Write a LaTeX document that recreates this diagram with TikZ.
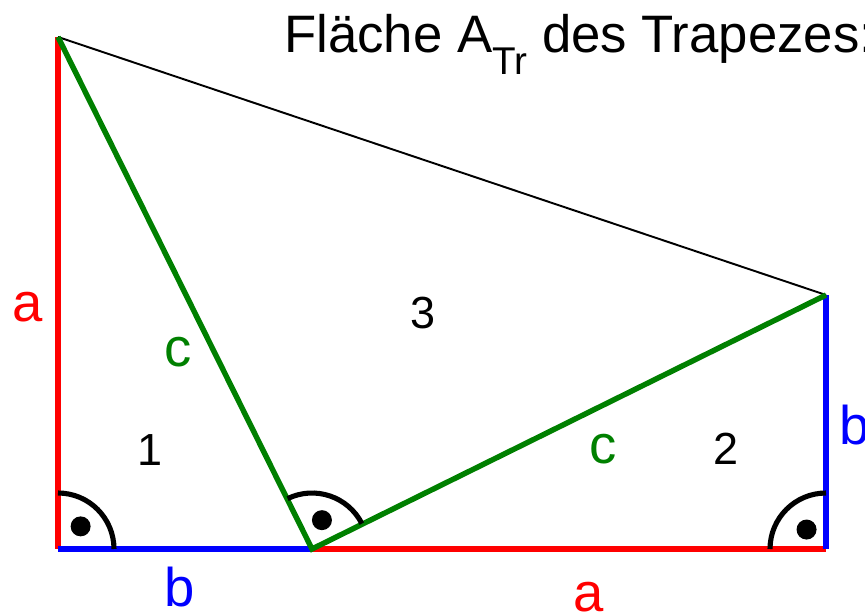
\documentclass[tikz,border=0pt]{standalone}
\usepackage{fontspec}
\setmainfont{Liberation Sans}
\definecolor{dgreen}{RGB}{0,128,0}

\tikzset{
  side/.style={line width=3.1pt},
  rangle/.style={line width=2.9pt,black},
  lbl/.style={inner sep=0pt,font=\fontsize{31}{36}\selectfont},
  num/.style={inner sep=0pt,font=\fontsize{25.6}{30}\selectfont}
}

\begin{document}
\begin{tikzpicture}[x=0.02cm,y=0.02cm]
\useasboundingbox (0,0) rectangle (865,615);

\coordinate (A) at (58,578);
\coordinate (B) at (58,66);
\coordinate (C) at (312,66);
\coordinate (D) at (826,66);
\coordinate (E) at (826,320);

% sides of the trapezium
\draw[side,red] (A) -- (B);
\draw[side,blue] (B) -- (C);
\draw[side,red] (C) -- (D);
\draw[side,blue] (D) -- (E);
\draw[line width=1.1pt] (A) -- (E);
\draw[side,dgreen] (A) -- (C) -- (E);

% right angles
\draw[rangle] (B) ++(90:1.12cm) arc[start angle=90,end angle=0,radius=1.12cm];
\fill (B) ++(45:0.64cm) circle[radius=0.2cm];
\draw[rangle] (C) ++(115.8:1.12cm) arc[start angle=115.8,end angle=27,radius=1.12cm];
\fill (C) ++(71:0.61cm) circle[radius=0.2cm];
\draw[rangle] (D) ++(90:1.12cm) arc[start angle=90,end angle=180,radius=1.12cm];
\fill (D) ++(135:0.55cm) circle[radius=0.2cm];

% labels
\node[lbl,red] (aL) at (28,308) {a};
\node[lbl,blue] (bB) at (180,28) {b};
\node[lbl,red] (aB) at (589,18) {a};
\node[lbl,blue,anchor=base west] (bR) at (839,170) {b};
\node[lbl,dgreen] (cL) at (178,263) {c};
\node[lbl,dgreen] (cR) at (603,166) {c};
\node[num] (n1) at (150,165) {1};
\node[num] (n2) at (726,166) {2};
\node[num] (n3) at (423,302) {3};

\node[anchor=base west,inner sep=0pt,font=\fontsize{30}{36}\selectfont] (title) at (284,562)
  {Fläche A\raisebox{-0.4em}{\fontsize{22}{26}\selectfont Tr} des Trapezes:};
\end{tikzpicture}
\end{document}
